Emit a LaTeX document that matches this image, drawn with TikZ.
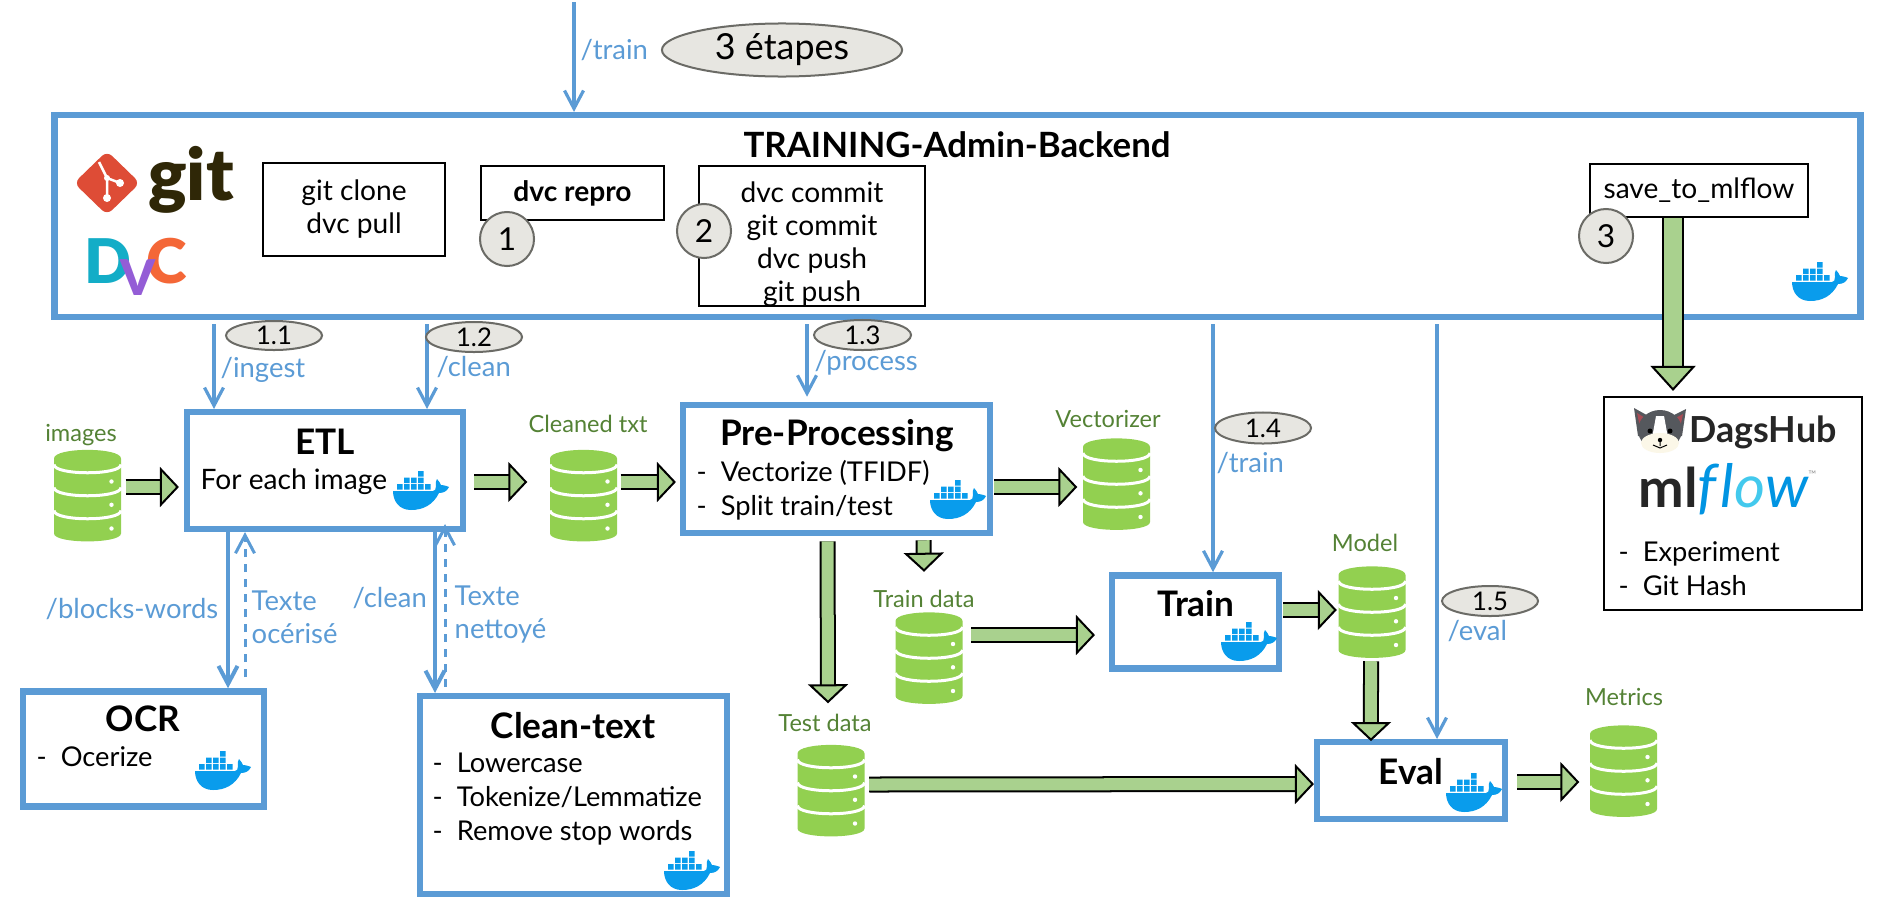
\documentclass[tikz,border=0pt]{standalone}
\usepackage{fontspec}
\setmainfont{Lato}
\newfontfamily\heavyfont{Lato Black}
\usetikzlibrary{shapes.geometric, arrows.meta}
\definecolor{ServiceBlue}{HTML}{5B9BD5}
\definecolor{StepGray}{HTML}{E7E6E1}
\definecolor{StepEdge}{HTML}{6B6B66}
\definecolor{DataGreen}{HTML}{92D050}
\definecolor{LabelGreen}{HTML}{548235}
\definecolor{ArrowGreen}{HTML}{A9D18E}
\definecolor{DockerBlue}{HTML}{099CEC}
\definecolor{GitRed}{HTML}{DE4C36}
\definecolor{GitBrown}{HTML}{2F2707}
\definecolor{DvcBlue}{HTML}{13ADC7}
\definecolor{DvcPurple}{HTML}{945DD6}
\definecolor{DvcOrange}{HTML}{F46737}
\definecolor{FlowBlue}{HTML}{0194E2}
\definecolor{FlowLight}{HTML}{43C9ED}
\definecolor{DogGray}{HTML}{55585D}
\definecolor{DogEar}{HTML}{A84B55}
\definecolor{DogCream}{HTML}{FBF7E8}
\tikzset{
    svcbox/.style={draw=ServiceBlue,line width=0.065cm,fill=white,inner sep=0pt},
    cmdbox/.style={draw=black,line width=0.02cm,fill=white,inner sep=0pt,align=center,font=\bodyfont},
    stepoval/.style={ellipse,draw=StepEdge,line width=0.02cm,fill=StepGray,inner sep=0pt,font=\stepfont},
    apilabel/.style={text=ServiceBlue,font=\apifont,inner sep=0pt,align=left},
    datalabel/.style={text=LabelGreen,font=\datafont,inner sep=0pt},
    boxtitle/.style={font=\titlefont,inner sep=0pt},
    boxlines/.style={font=\listfont,inner sep=0pt,align=left,anchor=west},
    dbspot/.style={minimum width=0.67cm,minimum height=0.91cm,inner sep=0pt},
    apiarrow/.style={draw=ServiceBlue,line width=0.032cm,-{Straight Barb[length=0.18cm,width=0.19cm]}},
    blockarrow/.style={draw=black,line width=0.02cm,double=ArrowGreen,double distance=0.12cm,
        -{Triangle[length=0.19cm,width=0.40cm,fill=ArrowGreen,line width=0.02cm]}},
}
\newcommand{\bodyfont}{\fontsize{8}{9.4}\selectfont}
\newcommand{\listfont}{\fontsize{7.75}{9.6}\selectfont}
\newcommand{\apifont}{\fontsize{7.8}{9.4}\selectfont}
\newcommand{\stepfont}{\fontsize{7.3}{9}\selectfont}
\newcommand{\datafont}{\fontsize{6.7}{8}\selectfont}
\newcommand{\titlefont}{\fontsize{10}{12}\selectfont\bfseries}
% green data cylinder, name and centre
\newcommand{\dbstack}[3]{
    \node[dbspot] (#1) at (#2,#3) {};
    \begin{scope}[shift={(#1.center)}]
        \fill[DataGreen] (-33.5,-37) .. controls (-33.5,-48.5) and (33.5,-48.5) .. (33.5,-37) -- (33.5,38)
            .. controls (33.5,48.5) and (-33.5,48.5) .. (-33.5,38) -- cycle;
        \draw[white,line width=0.03cm] (-33.5,-31) .. controls (-33.5,-20) and (33.5,-20) .. (33.5,-31);
        \draw[white,line width=0.03cm] (-33.5,-8) .. controls (-33.5,3) and (33.5,3) .. (33.5,-8);
        \draw[white,line width=0.03cm] (-33.5,15) .. controls (-33.5,26) and (33.5,26) .. (33.5,15);
        \fill[white] (24,-14) circle (2.2) (24,9.3) circle (2.2) (24,33) circle (2.2);
    \end{scope}
}
% whale with its containers, top left corner
\newcommand{\dockerlogo}[2]{
    \begin{scope}[shift={(#1,#2)}]
        \fill[DockerBlue] (0,20) -- (40,20) .. controls (42,20) and (43,18) .. (43,15)
            .. controls (42,12) and (43,10) .. (44,8) .. controls (46,10) and (47,12) .. (48,14)
            .. controls (50,14) and (54,15) .. (56,16) .. controls (54,20) and (51,22) .. (46,22)
            .. controls (40,34) and (30,39) .. (18,39) .. controls (6,39) and (0,30) .. (0,20) -- cycle;
        \fill[DockerBlue] (25,0) rectangle (30.5,5.5)
            (11,6.5) rectangle (16.5,12) (18,6.5) rectangle (23.5,12) (25,6.5) rectangle (30.5,12)
            (4,13) rectangle (9.5,18.5) (11,13) rectangle (16.5,18.5) (18,13) rectangle (23.5,18.5)
            (25,13) rectangle (30.5,18.5) (32,13) rectangle (37.5,18.5);
    \end{scope}
}

\begin{document}
\begin{tikzpicture}[x=0.01cm,y=-0.01cm]
    \useasboundingbox (0,0) rectangle (1877,897);

    % Backend frame
    \node[svcbox,minimum width=18.045cm,minimum height=2.015cm] (backend) at (957.5,216) {};
    \node[boxtitle,font=\fontsize{9.9}{12}\selectfont\bfseries] (backendtitle) at (957,145) {TRAINING-Admin-Backend};
    \coordinate (trainin) at (574,2);
    \draw[apiarrow] (trainin) -- (trainin |- backend.north);
    \node[apilabel,anchor=west] (trainlabel) at (580,50) {/train};
    \node[stepoval,font=\fontsize{10.2}{12}\selectfont,minimum width=2.4cm,minimum height=0.53cm] (steps) at (782,50) {3 étapes};

    % Git logo
    \fill[GitRed,rounded corners=2] (107,151) -- (140,183) -- (107,215) -- (74,183) -- cycle;
    \draw[white,line width=0.025cm] (99,162) -- (107,178) -- (107,198) (107,178) -- (120,183);
    \fill[white] (107,198) circle (4) (120,183) circle (4) (107,178) circle (3);
    \node[text=GitBrown,font=\fontsize{20.5}{22}\heavyfont,inner sep=0pt,anchor=base] (gitword) at (191,200) {git};

    % DVC logo
    \node[text=DvcBlue,font=\fontsize{17.5}{20}\heavyfont,inner sep=0pt,anchor=base] (dvcd) at (108,283) {D};
    \node[text=DvcOrange,font=\fontsize{17.5}{20}\heavyfont,inner sep=0pt,anchor=base] (dvcc) at (167,283) {C};
    \node[text=DvcPurple,font=\fontsize{14}{20}\heavyfont,inner sep=0pt,anchor=base] (dvcv) at (137.5,295) {V};

    % Commands
    \node[cmdbox,minimum width=1.82cm,minimum height=0.93cm] (gitclone) at (354,209.5) {git clone\\dvc pull};
    \node[cmdbox,minimum width=1.83cm,minimum height=0.54cm,font=\bodyfont\bfseries] (dvcrepro) at (572.5,193) {dvc repro};
    \node[cmdbox,minimum width=2.26cm,minimum height=1.4cm] (commits) at (812,236) {};
    \node[font=\bodyfont,align=center,inner sep=0pt] (commitlines) at (812,244) {dvc commit\\git commit\\dvc push\\git push};
    \node[cmdbox,minimum width=2.18cm,minimum height=0.53cm] (savemlflow) at (1699,190.5) {save\_to\_mlflow};
    \node[stepoval,circle,font=\fontsize{9}{11}\selectfont,minimum size=0.54cm] (stepone) at (507,239) {1};
    \node[stepoval,circle,font=\fontsize{9}{11}\selectfont,minimum size=0.54cm] (steptwo) at (704,231) {2};
    \node[stepoval,circle,font=\fontsize{9}{11}\selectfont,minimum size=0.54cm] (stepthree) at (1606,236) {3};
    \dockerlogo{1792}{262}

    % Tracking box
    \node[cmdbox,minimum width=2.58cm,minimum height=2.13cm] (dagshub) at (1733,503.5) {};
    \coordinate (savex) at (1673,0);
    \draw[blockarrow,double distance=0.18cm,shorten >=0.05cm,-{Triangle[length=0.25cm,width=0.45cm,fill=ArrowGreen,line width=0.02cm]}]
        (savemlflow.south -| savex) -- (dagshub.north -| savex);

    % Dog head
    \fill[DogGray] (1634,408) -- (1652,418) -- (1668,418) -- (1686,409) -- (1682,436) -- (1638,436) -- cycle;
    \fill[DogEar] (1637,413) -- (1650,421) -- (1641,432) -- cycle (1683,414) -- (1670,421) -- (1679,432) -- cycle;
    \fill[DogGray] (1660,430) ellipse (22 and 20);
    \fill[white] (1656,416) -- (1664,416) -- (1668,438) -- (1652,438) -- cycle;
    \fill[DogCream] (1660,443) ellipse (19 and 10);
    \fill[black] (1650,431) circle (2.5) (1670,431) circle (2.5) (1660,440) circle (2.2);
    \draw[black,line width=0.01cm] (1660,441) -- (1660,446) (1653,445) -- (1660,448) -- (1667,445);
    \node[text=black!85,font=\fontsize{10.2}{12}\selectfont\bfseries,inner sep=0pt] (dagsword) at (1763,432) {DagsHub};
    \node[font=\fontsize{15.5}{18}\selectfont,inner sep=0pt,anchor=base west] (flowword) at (1638,507)
        {\textcolor{black!85}{\bfseries ml}\textcolor{FlowBlue}{\fontsize{17}{18}\selectfont\itshape f\kern1pt l\textcolor{FlowLight}{o}w}\textcolor{black!40}{\fontsize{3}{4}\selectfont\raisebox{8pt}{™}}};
    \node[boxlines] (tracked) at (1618,569) {-\ \ Experiment\\-\ \ Git Hash};

    % ETL
    \node[svcbox,minimum width=2.755cm,minimum height=1.165cm] (etl) at (325,470.5) {};
    \node[boxtitle] (etltitle) at (325,442) {ETL};
    \node[boxlines,font=\bodyfont] (etltext) at (200,482) {For each image};
    \dockerlogo{393}{471}
    \coordinate (ingestx) at (214,0);
    \coordinate (cleanx) at (427,0);
    \draw[apiarrow,shorten <=0.04cm] (backend.south -| ingestx) -- (etl.north -| ingestx);
    \draw[apiarrow,shorten <=0.04cm] (backend.south -| cleanx) -- (etl.north -| cleanx);
    \node[stepoval,minimum width=0.96cm,minimum height=0.29cm] (stepingest) at (274,335.5) {1.1};
    \node[stepoval,minimum width=0.96cm,minimum height=0.3cm] (stepclean) at (474,337) {1.2};
    \node[apilabel,anchor=west] (ingestlabel) at (220,370) {/ingest};
    \node[apilabel,anchor=west] (cleanlabel) at (436,367) {/clean};

    % OCR
    \node[svcbox,minimum width=2.405cm,minimum height=1.15cm] (ocr) at (143.5,749) {};
    \node[boxtitle] (ocrtitle) at (143,719) {OCR};
    \node[boxlines] (ocrtext) at (36,757) {-\ \ Ocerize};
    \dockerlogo{195}{751}
    \coordinate (blocksx) at (228,0);
    \coordinate (ocrbackx) at (245,0);
    \draw[apiarrow,line width=0.04cm] (etl.south -| blocksx) -- (ocr.north -| blocksx);
    \draw[apiarrow,line width=0.03cm,dash pattern=on 0.08cm off 0.07cm,shorten <=0.11cm] (ocr.north -| ocrbackx) -- (etl.south -| ocrbackx);
    \node[apilabel,anchor=west] (blockslabel) at (45,609) {/blocks-words};
    \node[apilabel,anchor=west] (ocrbacklabel) at (251,617.5) {Texte\\océrisé};

    % Clean-text
    \node[svcbox,minimum width=3.065cm,minimum height=1.975cm] (cleantext) at (573.5,795) {};
    \node[boxtitle] (cleantitle) at (573,726) {Clean-text};
    \node[boxlines] (cleanlines) at (432,799) {-\ \ Lowercase\\-\ \ Tokenize/Lemmatize\\-\ \ Remove stop words};
    \dockerlogo{664}{851}
    \coordinate (cleantox) at (435,0);
    \coordinate (cleanbackx) at (445,0);
    \draw[apiarrow,line width=0.04cm] (etl.south -| cleantox) -- (cleantext.north -| cleantox);
    \draw[apiarrow,line width=0.03cm,dash pattern=on 0.08cm off 0.07cm,shorten <=0.06cm,shorten >=-0.08cm] (cleantext.north -| cleanbackx) -- (etl.south -| cleanbackx);
    \node[apilabel,anchor=west] (cleantolabel) at (352,598) {/clean};
    \node[apilabel,anchor=west] (cleanbacklabel) at (454,614.5) {Texte\\nettoyé};

    % Pre-Processing
    \node[svcbox,minimum width=3.065cm,minimum height=1.28cm] (preproc) at (836.5,469) {};
    \node[boxtitle] (preproctitle) at (837,436) {Pre-Processing};
    \node[boxlines] (preproclines) at (696,490) {-\ \ Vectorize (TFIDF)\\-\ \ Split train/test};
    \dockerlogo{930}{480}
    \coordinate (processx) at (807,0);
    \draw[apiarrow,shorten <=0.04cm,shorten >=0.05cm] (backend.south -| processx) -- (preproc.north -| processx);
    \node[stepoval,minimum width=0.97cm,minimum height=0.3cm] (stepprocess) at (862.5,335) {1.3};
    \node[apilabel,anchor=west] (processlabel) at (814,363) {/process};

    % Train
    \node[svcbox,minimum width=1.665cm,minimum height=0.93cm] (train) at (1195.5,622) {};
    \node[boxtitle] (traintitle) at (1196,604) {Train};
    \dockerlogo{1221}{622}
    \coordinate (trainx) at (1213,0);
    \draw[apiarrow,shorten <=0.04cm] (backend.south -| trainx) -- (train.north -| trainx);
    \node[stepoval,minimum width=0.96cm,minimum height=0.31cm] (steptrain) at (1263,428) {1.4};
    \node[apilabel,anchor=west] (trainlabeltwo) at (1216,463) {/train};

    % Eval
    \node[svcbox,minimum width=1.875cm,minimum height=0.765cm] (eval) at (1411,780.5) {};
    \node[boxtitle] (evaltitle) at (1411,772) {Eval};
    \dockerlogo{1446}{773}
    \coordinate (evalx) at (1437,0);
    \draw[apiarrow,shorten <=0.04cm] (backend.south -| evalx) -- (eval.north -| evalx);
    \node[stepoval,minimum width=0.96cm,minimum height=0.3cm] (stepeval) at (1490,601) {1.5};
    \node[apilabel,anchor=west] (evallabel) at (1447,631) {/eval};

    % Data stores
    \dbstack{dbimages}{87.5}{495.5}
    \node[datalabel] (imageslabel) at (81,435) {images};
    \dbstack{dbcleaned}{583.5}{495.5}
    \node[datalabel] (cleanedlabel) at (588,424) {Cleaned txt};
    \dbstack{dbvector}{1116.5}{484}
    \node[datalabel] (vectorlabel) at (1108,418.5) {Vectorizer};
    \dbstack{dbtrain}{929}{658}
    \node[datalabel] (trainlabelthree) at (924,599) {Train data};
    \dbstack{dbtest}{831}{790.5}
    \node[datalabel] (testlabel) at (825,723) {Test data};
    \dbstack{dbmodel}{1372}{612}
    \node[datalabel] (modellabel) at (1365,543) {Model};
    \dbstack{dbmetrics}{1623.5}{771}
    \node[datalabel] (metricslabel) at (1624,697) {Metrics};

    % Data flow
    \draw[blockarrow] ([shift={(4,-8.5)}]dbimages.east) -- ([shift={(-5,16.5)}]etl.west);
    \draw[blockarrow] ([shift={(8,11.5)}]etl.east) -- ([shift={(-22,-13.5)}]dbcleaned.west);
    \draw[blockarrow] ([shift={(3,-13.5)}]dbcleaned.east) -- ([shift={(-4,13)}]preproc.west);
    \draw[blockarrow] ([shift={(1,18)}]preproc.east) -- ([shift={(-5,3)}]dbvector.west);
    \draw[blockarrow] ([shift={(87,4)}]preproc.south) -- ([shift={(-5,-40)}]dbtrain.north);
    \draw[blockarrow] ([shift={(-9,5)}]preproc.south) -- ([shift={(-3,-41)}]dbtest.north);
    \draw[blockarrow] ([shift={(8,-23)}]dbtrain.east) -- ([shift={(-14,13)}]train.west);
    \draw[blockarrow] ([shift={(4,-6)}]dbtest.east) -- ([shift={(0,3.5)}]eval.west);
    \draw[blockarrow] ([shift={(1,-12)}]train.east) -- ([shift={(-1,-2)}]dbmodel.west);
    \draw[blockarrow] ([shift={(-1,3)}]dbmodel.south) -- ([yshift=-0.6pt,xshift=-11.4pt]eval.north);
    \draw[blockarrow] ([shift={(9,1.5)}]eval.east) -- ([shift={(-10,11)}]dbmetrics.west);
\end{tikzpicture}
\end{document}
